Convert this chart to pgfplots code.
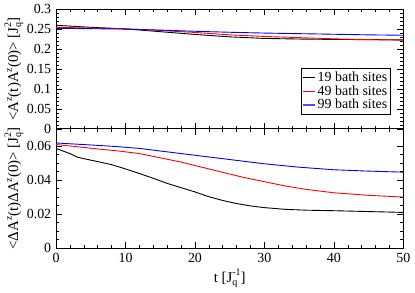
\documentclass[border=0pt]{standalone}
\usepackage{fontspec}
\setmainfont{Liberation Serif}
\usepackage{pgfplots}
\pgfplotsset{compat=1.18}
\usepgfplotslibrary{groupplots}
\newcommand{\Jq}[1]{J\makebox[0pt][l]{\raisebox{-0.45ex}{\fontsize{10}{10}\selectfont q}}\raisebox{1.0ex}{\fontsize{10}{10}\selectfont #1}}
\newcommand{\sz}{\raisebox{0.9ex}{\fontsize{10}{10}\selectfont z}}
\begin{document}
\fontsize{14}{16}\selectfont
\begin{tikzpicture}
\begin{groupplot}[
  group style={group size=1 by 2, vertical sep=0pt, x descriptions at=edge bottom},
  width=349pt, height=120pt, scale only axis,
  xmin=0, xmax=50,
  xtick={0,10,...,50},
  minor x tick num=4,
  tick align=inside,
  xtick pos=both, ytick pos=both,
  major tick length=6pt, minor tick length=3pt,
  every tick/.style={line width=0.6pt},
  axis line style={line width=0.9pt},
  scaled y ticks=false,
  /pgf/number format/assume math mode=true,
  /pgf/number format/fixed,
  tick label style={font=\fontsize{14}{16}\selectfont},
  label style={font=\fontsize{15}{17}\selectfont},
  ylabel shift=-6pt,
  xlabel shift=-3pt,
]
\nextgroupplot[
  ymin=0, ymax=0.3,
  ytick={0,0.05,0.1,0.15,0.2,0.25,0.3},
  yticklabels={0,0.05,0.1,0.15,0.2,0.25,0.3},
  minor y tick num=4,
  ylabel={<A\sz(t)A\sz(0)> [\Jq{2}]},
  legend style={at={(0.963,0.123)}, anchor=south east,
    font=\fontsize{14}{14}\selectfont, inner sep=1pt, row sep=-2pt,
    legend cell align=left},
  legend image code/.code={\draw[#1] (0cm,0cm) -- (0.42cm,0cm);},
]
\addlegendimage{draw=black, line width=1.3pt}
\addlegendentry{19 bath sites}
\addlegendimage{draw=red, line width=1.3pt}
\addlegendentry{49 bath sites}
\addlegendimage{draw=blue!70, line width=1.3pt}
\addlegendentry{99 bath sites}
\addplot[black, line width=0.9pt, forget plot] coordinates {(0,0.260)(2,0.258)(5,0.255)(10,0.251)(15,0.244)(20,0.237)(25,0.231)(30,0.227)(35,0.2255)(40,0.2245)(45,0.224)(50,0.2235)};
\addplot[red, line width=0.9pt, forget plot] coordinates {(0,0.255)(5,0.253)(10,0.251)(15,0.247)(20,0.242)(25,0.236)(30,0.232)(35,0.229)(40,0.226)(45,0.224)(50,0.2225)};
\addplot[blue, line width=0.9pt, forget plot] coordinates {(0,0.2525)(5,0.2515)(10,0.2505)(15,0.248)(20,0.245)(25,0.2425)(30,0.2405)(35,0.239)(40,0.2375)(45,0.236)(50,0.235)};
\nextgroupplot[
  ymin=0, ymax=0.07,
  ytick={0,0.02,0.04,0.06},
  yticklabels={0,0.02,0.04,0.06},
  minor y tick num=3,
  xticklabels={0,10,20,30,40,50},
  ylabel={<ΔA\sz(t)ΔA\sz(0)> [\Jq{2}]},
  xlabel={t [\Jq{-1}]},
]
\addplot[black, line width=0.9pt] coordinates {(0,0.0585)(1,0.057)(2,0.0555)(3,0.0535)(4,0.0525)(6,0.0508)(8,0.049)(10,0.0465)(12,0.0438)(14,0.041)(16,0.038)(18,0.0355)(20,0.033)(22,0.0302)(24,0.028)(26,0.0262)(28,0.0248)(30,0.0238)(33,0.0228)(36,0.0223)(40,0.022)(45,0.0215)(50,0.021)};
\addplot[red, line width=0.9pt] coordinates {(0,0.0608)(3,0.0595)(6,0.0582)(9,0.057)(12,0.0555)(15,0.053)(18,0.0505)(21,0.0475)(24,0.0445)(27,0.0415)(30,0.039)(33,0.0365)(36,0.0345)(40,0.0325)(45,0.031)(50,0.030)};
\addplot[blue, line width=0.9pt] coordinates {(0,0.0617)(3,0.061)(6,0.0603)(9,0.0595)(12,0.0585)(15,0.057)(18,0.0555)(21,0.054)(24,0.0525)(27,0.051)(30,0.0495)(35,0.0475)(40,0.046)(45,0.0452)(50,0.0446)};
\end{groupplot}
\end{tikzpicture}
\end{document}
